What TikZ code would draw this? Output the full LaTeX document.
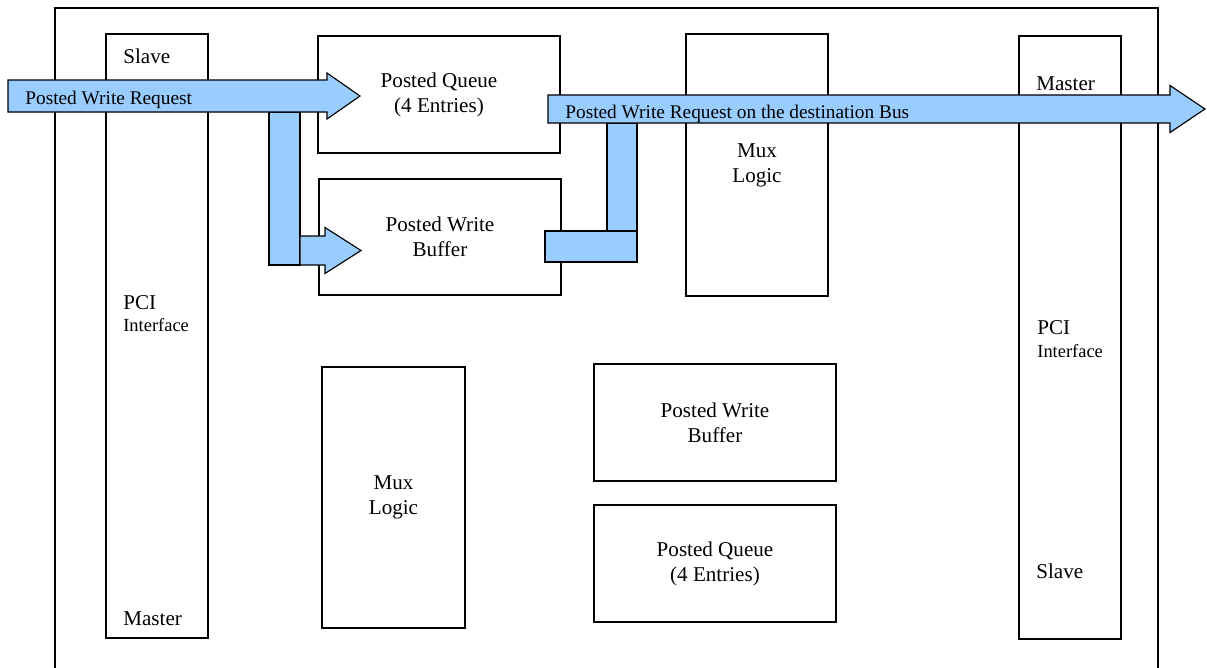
\documentclass[tikz,border=0pt]{standalone}
\usepackage{fontspec}
\setmainfont{Liberation Serif}
\usetikzlibrary{calc}

\definecolor{flowblue}{RGB}{153,204,255}
\tikzset{
	box/.style={draw,line width=0.65pt,inner sep=0pt,align=center,font=\fontsize{12}{14.2}\selectfont},
	lbl/.style={inner sep=0pt,anchor=base west,font=\fontsize{12}{14.2}\selectfont},
	smalllbl/.style={inner sep=0pt,anchor=base west,font=\fontsize{10.5}{12}\selectfont},
	arrowlbl/.style={inner sep=0pt,anchor=base west,font=\fontsize{11}{13}\selectfont},
	flow/.style={draw,line width=0.65pt,fill=flowblue}
}
% #1 start, #2 tip, #3 half body, #4 half head, #5 head length
\newcommand{\blockarrow}[5]{
	\draw[flow]($(#1)+(0,-#3)$)--($(#2)+(-#5,-#3)$)--($(#2)+(-#5,-#4)$)--(#2)--($(#2)+(-#5,#4)$)--($(#2)+(-#5,#3)$)--($(#1)+(0,#3)$)--cycle;
}

\begin{document}
\begin{tikzpicture}[x=0.02cm,y=-0.02cm]
\useasboundingbox (0,0) rectangle (1207,667);

\draw[line width=0.65pt](55,672)|-(1158,8)--(1158,672);

\node[box,minimum width=2.04cm,minimum height=12.08cm](pciL) at (157,336){};
\node[box,minimum width=2.04cm,minimum height=12.06cm](pciR) at (1070,337.5){};
\node[box,minimum width=4.84cm,minimum height=2.34cm](queueT) at (439,94.5){Posted Queue\\(4 Entries)};
\node[box,minimum width=4.84cm,minimum height=2.32cm](bufT) at (440,237){Posted Write\\Buffer};
\node[box,minimum width=2.84cm,minimum height=5.24cm](muxT) at (757,165){Mux\\Logic};
\node[box,minimum width=2.86cm,minimum height=5.22cm](muxB) at (393.5,497.5){Mux\\Logic};
\node[box,minimum width=4.84cm,minimum height=2.34cm](bufB) at (715,422.5){Posted Write\\Buffer};
\node[box,minimum width=4.84cm,minimum height=2.34cm](queueB) at (715,563.5){Posted Queue\\(4 Entries)};

\node[lbl](slaveL) at (123,63){Slave};
\node[lbl](pciLa) at (123,309){PCI};
\node[smalllbl](pciLb) at (123,331){Interface};
\node[lbl](masterL) at (123,625){Master};
\node[lbl](masterR) at (1036,90){Master};
\node[lbl](pciRa) at (1037,334){PCI};
\node[smalllbl](pciRb) at (1037,357){Interface};
\node[lbl](slaveR) at (1036,578){Slave};

\coordinate(reqS) at (8,96);
\coordinate(reqE) at (360,96);
\coordinate(bufS) at (300,250.5);
\coordinate(bufE) at (361,250.5);
\coordinate(busS) at (548,109);
\coordinate(busE) at (1205,109);

\draw[flow](269,112) rectangle (300,265);
\blockarrow{reqS}{reqE}{16}{23}{33}
\node[arrowlbl](reqtxt) at (25,104){Posted Write Request};
\blockarrow{bufS}{bufE}{14.5}{23}{36}

\draw[flow](545,231) rectangle (637,262);
\draw[flow](607,123) rectangle (637,231);
\blockarrow{busS}{busE}{14}{23.5}{35}
\node[arrowlbl](bustxt) at (565,118){Posted Write Request on the destination Bus};

\end{tikzpicture}
\end{document}
